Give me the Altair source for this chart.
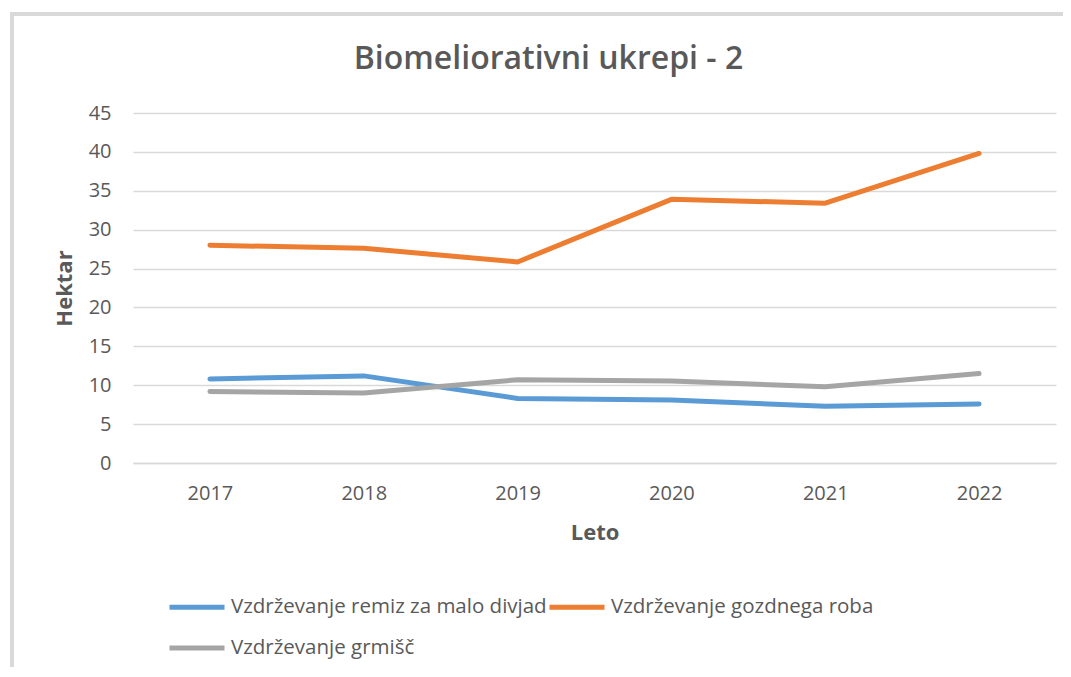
import altair as alt
import pandas as pd

years = ["2017", "2018", "2019", "2020", "2021", "2022"]
series_names = [
    "Vzdrževanje remiz za malo divjad",
    "Vzdrževanje gozdnega roba",
    "Vzdrževanje grmišč",
]
remiz = [10.8, 11.2, 8.3, 8.1, 7.3, 7.6]
gozdni_rob = [28.0, 27.6, 25.85, 33.9, 33.4, 39.8]
grmisc = [9.2, 9.0, 10.7, 10.55, 9.8, 11.5]
colors = ["#5B9BD5", "#ED7D31", "#A5A5A5"]
y_ticks = [0, 5, 10, 15, 20, 25, 30, 35, 40, 45]

rows = []
for name, vals in zip(series_names, [remiz, gozdni_rob, grmisc]):
    for yr, v in zip(years, vals):
        rows.append({"Leto": yr, "Serija": name, "Hektar": v})
df = pd.DataFrame(rows)

FONT = "Open Sans"
TXT = "#595959"
GRID = "#d9d9d9"

lines = alt.Chart(df).mark_line(strokeWidth=5, strokeCap="round", strokeJoin="round").encode(
    x=alt.X(
        "Leto:N",
        sort=years,
        scale=alt.Scale(type="point", padding=0.5),
        axis=alt.Axis(
            title="Leto",
            labelAngle=0,
            labelFontSize=20,
            labelColor=TXT,
            labelPadding=20,
            ticks=False,
            domainColor=GRID,
            domainWidth=1.5,
            grid=False,
            titleFontSize=22,
            titleFontWeight="bold",
            titleColor=TXT,
            titlePadding=19,
        ),
    ),
    y=alt.Y(
        "Hektar:Q",
        scale=alt.Scale(domain=[0, 45], nice=False),
        axis=alt.Axis(
            title="Hektar",
            values=y_ticks,
            labelFontSize=20,
            labelColor=TXT,
            labelPadding=22,
            ticks=False,
            domain=False,
            gridColor=GRID,
            gridWidth=1.5,
            titleFontSize=22,
            titleFontWeight="bold",
            titleColor=TXT,
            titlePadding=12,
        ),
    ),
    color=alt.Color(
        "Serija:N",
        sort=series_names,
        scale=alt.Scale(domain=series_names, range=colors),
        legend=alt.Legend(
            title=None,
            orient="none",
            direction="horizontal",
            legendX=34,
            legendY=464,
            columns=2,
            columnPadding=-9,
            rowPadding=-10,
            symbolType="stroke",
            symbolSize=3025,
            symbolStrokeWidth=5,
            labelFontSize=20.5,
            labelColor=TXT,
            labelOffset=4,
            labelLimit=0,
            labelFont=FONT,
        ),
    ),
)

frame = alt.Chart(pd.DataFrame({"f": [0]})).mark_rect(
    filled=False, stroke=GRID, strokeWidth=4
).encode(
    x=alt.value(-121),
    y=alt.value(-99),
    x2=alt.value(960),
    y2=alt.value(620),
)

chart = alt.layer(frame, lines).properties(
    width=923,
    height=350,
    title=alt.Title(
        "Biomeliorativni ukrepi - 2",
        fontSize=32,
        fontWeight=600,
        color=TXT,
        font=FONT,
        anchor="middle",
        dx=-46,
        offset=-64,
    ),
    autosize=alt.AutoSizeParams(type="none"),
    padding={"left": 125, "top": 105, "right": 7, "bottom": 204},
).configure(
    font=FONT,
).configure_view(
    stroke=None,
).configure_axis(
    labelFont=FONT,
    titleFont=FONT,
)

chart.save("out.html", embed_options={"renderer": "svg", "actions": False})
